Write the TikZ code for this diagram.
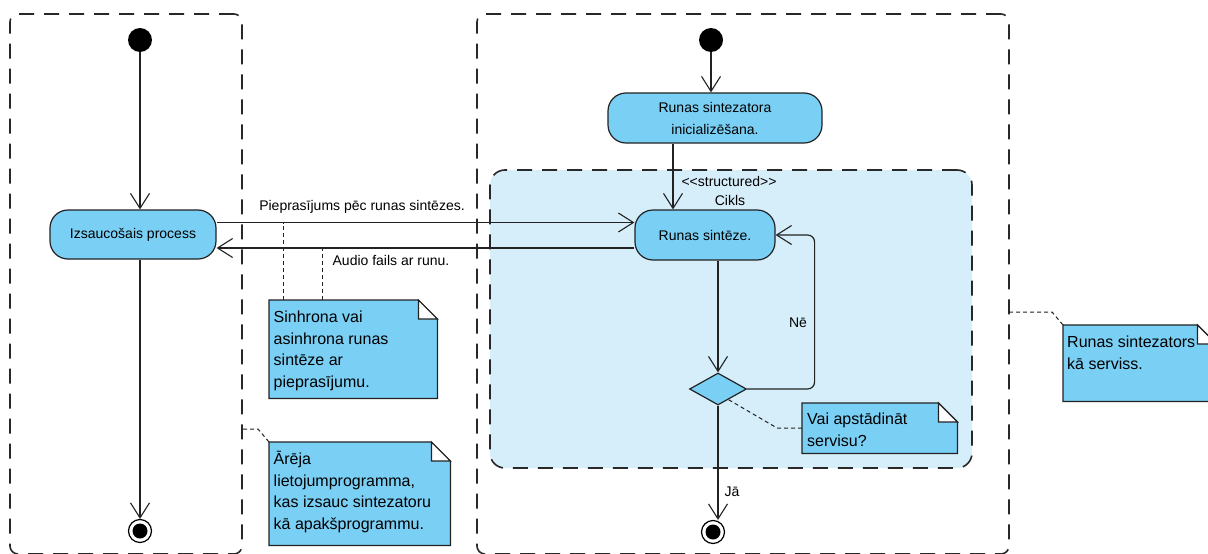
\documentclass[tikz,border=0pt]{standalone}
\usepackage{fontspec}
\setmainfont{Liberation Sans}
\usetikzlibrary{arrows.meta,shapes.geometric,calc}

\definecolor{actfill}{RGB}{122,207,245}
\definecolor{regionfill}{RGB}{214,238,250}
\definecolor{ink}{RGB}{34,34,34}
\definecolor{framec}{RGB}{40,40,40}

% note outline with a folded top-right corner, drawn on the anchors of node #1
\newcommand{\notecard}[1]{%
  \filldraw[noteshape] (#1.north west) -- ([xshift=-19pt]#1.north east)
    -- ([yshift=-19pt]#1.north east) -- (#1.south east) -- (#1.south west) -- cycle;
  \filldraw[notefold] ([xshift=-19pt]#1.north east)
    -- ([xshift=-19pt,yshift=-19pt]#1.north east) -- ([yshift=-19pt]#1.north east) -- cycle;}

\begin{document}
\begin{tikzpicture}[x=1pt,y=-1pt,
  lane/.style={draw=framec, line width=1.6pt, dash pattern=on 15pt off 10pt,
    rounded corners=8pt, inner sep=0pt},
  region/.style={draw=framec, fill=regionfill, line width=1.6pt,
    dash pattern=on 15pt off 10pt, rounded corners=15pt, inner sep=0pt},
  action/.style={draw=ink, fill=actfill, line width=1.2pt, rounded corners=18pt,
    align=center, inner sep=0pt, font=\fontsize{14}{22}\selectfont},
  startst/.style={circle, fill=black, minimum size=24pt, inner sep=0pt},
  endst/.style={circle, draw=black, line width=1.2pt, fill=white, minimum size=23pt,
    inner sep=0pt,
    path picture={\fill[black] (path picture bounding box.center) circle (7.5pt);}},
  decision/.style={diamond, draw=ink, fill=actfill, line width=1.2pt,
    minimum width=57pt, minimum height=32pt, inner sep=0pt},
  flow/.style={draw=ink, line width=1.2pt,
    -{Straight Barb[length=15pt, width=19pt, line width=1.1pt]}},
  lbl/.style={font=\fontsize{14}{17}\selectfont, inner sep=0pt},
  notebody/.style={inner sep=0pt, anchor=north west},
  noteshape/.style={draw=ink, fill=actfill, line width=1.2pt},
  notefold/.style={draw=ink, fill=white, line width=1.2pt},
  notetext/.style={anchor=north west, inner sep=0pt, align=left,
    font=\fontsize{16}{21.5}\selectfont},
  notelink/.style={draw=ink, line width=1pt, dash pattern=on 4pt off 3pt},
]
\useasboundingbox (0,0) rectangle (1208,554);
\clip (0,0) rectangle (1208,554);

% swimlanes
\node[lane, minimum width=232pt, minimum height=540pt] (lane1) at (126,284) {};
\node[lane, minimum width=532pt, minimum height=540pt] (lane2) at (743,284) {};

% structured loop region
\node[region, minimum width=482pt, minimum height=298pt] (loop) at (731,319) {};
\node[lbl] (stereo) at (729,181) {<\kern0pt<structured>\kern0pt>};
\node[lbl] (cikls) at (730,200) {Cikls};

% calling process
\node[startst] (s1) at (140,40) {};
\node[action, minimum width=166pt, minimum height=49pt] (izs) at (133,234.5) {Izsaucošais process};
\node[endst] (e1) at (140,531) {};

% synthesiser service
\node[startst] (s2) at (711,40) {};
\node[action, minimum width=214pt, minimum height=50pt] (init) at (715,118)
  {Runas sintezatora\\inicializēšana.};
\node[action, minimum width=140pt, minimum height=50pt] (sint) at (705,235) {Runas sintēze.};
\node[decision] (dec) at (718,389) {};
\node[endst] (e2) at (713,532) {};

% control flows
\draw[flow] (s1) -- (s1 |- izs.north);
\draw[flow] (s1 |- izs.south) -- (e1);
\draw[flow] (s2) -- (s2 |- init.north);
\draw[flow] ([xshift=-42pt]init.south) -- ([xshift=-42pt]init.south |- sint.north);
\draw[flow] ([yshift=12pt]izs.east) -- ([yshift=12pt]izs.east -| sint.west);
\draw[flow] ([yshift=-13pt]sint.west) -- ([yshift=-13pt]sint.west -| izs.east);
\draw[flow] (sint.south -| dec) -- (dec.north);
\draw[flow, rounded corners=7pt] (dec.east) -| ([xshift=39pt]sint.east) -- (sint.east);
\draw[flow] (dec.south) -- (dec.south |- e2.north);

% flow labels
\node[lbl] (req) at (362,207) {Pieprasījums pēc runas sintēzes.};
\node[lbl] (resp) at (391,260) {Audio fails ar runu.};
\node[lbl] (no) at (798,323) {Nē};
\node[lbl] (yes) at (732,492) {Jā};

% notes
\node[notebody, minimum width=168pt, minimum height=98pt] (n1) at (269,300) {};
\notecard{n1}
\node[notetext] (n1t) at ([xshift=4.5pt,yshift=-7.5pt]n1.north west)
  {\strut Sinhrona vai\\\strut asinhrona runas\\\strut sintēze ar\\\strut pieprasījumu.};

\node[notebody, minimum width=181pt, minimum height=103pt] (n2) at (269,442) {};
\notecard{n2}
\node[notetext] (n2t) at ([xshift=4.5pt,yshift=-7.5pt]n2.north west)
  {\strut Ārēja\\\strut lietojumprogramma,\\\strut kas izsauc sintezatoru\\\strut kā apakšprogrammu.};

\node[notebody, minimum width=155pt, minimum height=50pt] (n3) at (802,403) {};
\notecard{n3}
\node[notetext] (n3t) at ([xshift=5pt,yshift=-6.5pt]n3.north west)
  {\strut Vai apstādināt\\\strut servisu?};

\node[notebody, minimum width=153pt, minimum height=76pt] (n4) at (1063,325) {};
\notecard{n4}
\node[notetext] (n4t) at ([xshift=4pt,yshift=-7.5pt]n4.north west)
  {\strut Runas sintezators\\\strut kā serviss.};

% note anchors
\coordinate (m1) at ($([yshift=12pt]izs.east)!0.5!([yshift=12pt]sint.west)$);
\coordinate (m2) at ($([yshift=-13pt]sint.west)!0.5!([yshift=-13pt]izs.east)$);
\draw[notelink] ([xshift=14pt]n1.north west) |- (m1);
\draw[notelink] ([xshift=53pt]n1.north west) |- (m2);
\draw[notelink] (n2.north west) -- ++(-11,-13) coordinate (k2) -- (k2 -| lane1.east);
\draw[notelink] ([yshift=-25pt]n3.north west) -- ++(-25,0) -- ($(dec.east)!0.64!(dec.south)$);
\draw[notelink] (n4.north west) -- ++(-11,-13) coordinate (k4) -- (k4 -| lane2.east);
\end{tikzpicture}
\end{document}
